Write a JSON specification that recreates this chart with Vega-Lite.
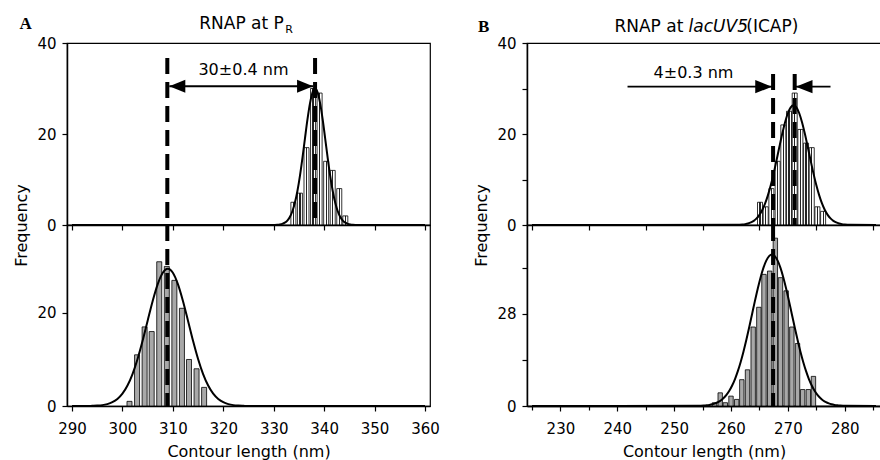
{
  "$schema": "https://vega.github.io/schema/vega-lite/v6.json",
  "background": "white",
  "padding": {"left": 12, "top": 14, "right": 0, "bottom": 0},
  "autosize": {"type": "pad"},
  "config": {
    "view": {"stroke": "black", "strokeWidth": 1.2},
    "axis": {"grid": false, "labelOverlap": false, "labelFlush": false, "domainColor": "black", "domainWidth": 1.5, "tickColor": "black", "tickWidth": 1.2, "tickSize": 5, "labelFont": "DejaVu Sans", "labelFontSize": 15, "labelColor": "black", "labelPadding": 6, "titleFont": "DejaVu Sans", "titleFontSize": 16, "titleFontWeight": "normal", "titleColor": "black"},
    "text": {"font": "DejaVu Sans", "color": "black"}
  },
  "columns": 2,
  "spacing": {"row": 0, "column": 97},
  "bounds": "flush",
  "concat": [
        {
          "width": 363,
          "height": 182,
          "layer": [
            {
              "data": {"values": [
                {"len": 333.9, "freq": 5}, {"len": 335.2, "freq": 7}, {"len": 336.5, "freq": 17}, {"len": 337.8, "freq": 30}, {"len": 339.1, "freq": 29}, {"len": 340.4, "freq": 14}, {"len": 341.7, "freq": 12}, {"len": 343.0, "freq": 8}, {"len": 344.2, "freq": 2}
              ]},
              "mark": {"type": "bar", "size": 5, "stroke": "black", "strokeWidth": 0.8,
                "fill": {"gradient": "linear", "x1": 0, "y1": 0, "x2": 1, "y2": 0, "stops": [
                  {"offset": 0, "color": "white"}, {"offset": 0.38, "color": "white"}, {"offset": 0.38, "color": "#222222"}, {"offset": 0.62, "color": "#222222"}, {"offset": 0.62, "color": "white"}, {"offset": 1, "color": "white"}]}},
              "encoding": {
                "x": {"field": "len", "type": "quantitative", "scale": {"domain": [290, 360], "nice": false, "zero": false},
                  "axis": {"values": [290, 300, 310, 320, 330, 340, 350, 360], "labels": false, "title": null}},
                "y": {"field": "freq", "type": "quantitative", "scale": {"domain": [0, 40], "nice": false},
                  "axis": {"values": [0, 20, 40], "title": "Frequency", "titleX": -41, "titleY": 182, "titleAngle": -90, "titleAlign": "center", "titleBaseline": "alphabetic"}}
              }
            },
            {
              "data": {"values": [
                {"len": 308.9, "freq": 36.7}, {"len": 338.2, "freq": 36.7}
              ]},
              "mark": {"type": "rule", "color": "black", "strokeWidth": 4, "strokeDash": [16, 8]},
              "encoding": {"x": {"field": "len", "type": "quantitative"}, "y": {"field": "freq", "type": "quantitative"}, "y2": {"datum": 0}}
            },
            {
              "data": {"values": [
                {"len": 290, "freq": 0}, {"len": 330.2, "freq": 0.02}, {"len": 330.7, "freq": 0.05}, {"len": 331.2, "freq": 0.12}, {"len": 331.7, "freq": 0.25}, {"len": 332.2, "freq": 0.51}, {"len": 332.7, "freq": 0.97}, {"len": 333.2, "freq": 1.76}, {"len": 333.7, "freq": 3.02}, {"len": 334.2, "freq": 4.89}, {"len": 334.7, "freq": 7.48}, {"len": 335.2, "freq": 10.81}, {"len": 335.7, "freq": 14.77}, {"len": 336.2, "freq": 19.06}, {"len": 336.7, "freq": 23.25}, {"len": 337.2, "freq": 26.78}, {"len": 337.7, "freq": 29.16}, {"len": 338.2, "freq": 30}, {"len": 338.7, "freq": 29.16}, {"len": 339.2, "freq": 26.78}, {"len": 339.7, "freq": 23.25}, {"len": 340.2, "freq": 19.06}, {"len": 340.7, "freq": 14.77}, {"len": 341.2, "freq": 10.81}, {"len": 341.7, "freq": 7.48}, {"len": 342.2, "freq": 4.89}, {"len": 342.7, "freq": 3.02}, {"len": 343.2, "freq": 1.76}, {"len": 343.7, "freq": 0.97}, {"len": 344.2, "freq": 0.51}, {"len": 344.7, "freq": 0.25}, {"len": 345.2, "freq": 0.12}, {"len": 345.7, "freq": 0.05}, {"len": 346.2, "freq": 0.02}, {"len": 360, "freq": 0}
              ]},
              "mark": {"type": "line", "color": "black", "strokeWidth": 2, "interpolate": "monotone"},
              "encoding": {"x": {"field": "len", "type": "quantitative"}, "y": {"field": "freq", "type": "quantitative"}}
            },
            {
              "data": {"values": [{"len": 309.3, "len2": 337.8, "freq": 30.5}]},
              "mark": {"type": "rule", "color": "black", "strokeWidth": 2},
              "encoding": {"x": {"field": "len", "type": "quantitative"}, "x2": {"field": "len2"}, "y": {"field": "freq", "type": "quantitative"}}
            },
            {
              "data": {"values": [{"len": 309.3, "freq": 30.5, "dir": "left"}, {"len": 337.8, "freq": 30.5, "dir": "right"}]},
              "mark": {"type": "point", "filled": true, "size": 256, "color": "black", "opacity": 1, "strokeWidth": 0},
              "encoding": {"x": {"field": "len", "type": "quantitative"}, "y": {"field": "freq", "type": "quantitative"},
                "shape": {"field": "dir", "type": "nominal", "scale": {"domain": ["left", "right"], "range": ["M0,0L2,-0.8L2,0.8Z", "M0,0L-2,-0.8L-2,0.8Z"]}, "legend": null}}
            },
            {
              "data": {"values": [{"len": 324.0, "freq": 34.1, "label": "30±0.4 nm"}]},
              "mark": {"type": "text", "fontSize": 16, "align": "center", "baseline": "middle"},
              "encoding": {"x": {"field": "len", "type": "quantitative"}, "y": {"field": "freq", "type": "quantitative"}, "text": {"field": "label"}}
            },
            {
              "data": {"values": [{"len": 332.0, "freq": 43.1, "label": "RNAP at P"}]},
              "mark": {"type": "text", "fontSize": 17, "align": "right", "baseline": "alphabetic"},
              "encoding": {"x": {"field": "len", "type": "quantitative"}, "y": {"field": "freq", "type": "quantitative"}, "text": {"field": "label"}}
            },
            {
              "data": {"values": [{"len": 332.3, "freq": 42.26, "label": "R"}]},
              "mark": {"type": "text", "fontSize": 11, "align": "left", "baseline": "alphabetic"},
              "encoding": {"x": {"field": "len", "type": "quantitative"}, "y": {"field": "freq", "type": "quantitative"}, "text": {"field": "label"}}
            },
            {
              "data": {"values": [{"len": 279.6, "freq": 43.0, "label": "A"}]},
              "mark": {"type": "text", "font": "Liberation Serif", "fontWeight": "bold", "fontSize": 17, "align": "left", "baseline": "alphabetic"},
              "encoding": {"x": {"field": "len", "type": "quantitative"}, "y": {"field": "freq", "type": "quantitative"}, "text": {"field": "label"}}
            }
          ]
        },
        {
          "width": 354,
          "height": 182,
          "layer": [
            {
              "data": {"values": [
                {"len": 265.1, "freq": 5}, {"len": 266.1, "freq": 4}, {"len": 267.1, "freq": 8}, {"len": 268.2, "freq": 14}, {"len": 269.2, "freq": 22}, {"len": 270.2, "freq": 25}, {"len": 271.2, "freq": 29}, {"len": 272.2, "freq": 21}, {"len": 273.2, "freq": 18}, {"len": 274.2, "freq": 17}, {"len": 275.2, "freq": 4}, {"len": 276.2, "freq": 3}
              ]},
              "mark": {"type": "bar", "size": 5, "stroke": "black", "strokeWidth": 0.8,
                "fill": {"gradient": "linear", "x1": 0, "y1": 0, "x2": 1, "y2": 0, "stops": [
                  {"offset": 0, "color": "white"}, {"offset": 0.38, "color": "white"}, {"offset": 0.38, "color": "#222222"}, {"offset": 0.62, "color": "#222222"}, {"offset": 0.62, "color": "white"}, {"offset": 1, "color": "white"}]}},
              "encoding": {
                "x": {"field": "len", "type": "quantitative", "scale": {"domain": [225, 285.5], "nice": false, "zero": false},
                  "axis": {"values": [225, 230, 235, 240, 245, 250, 255, 260, 265, 270, 275, 280, 285], "labels": false, "title": null}},
                "y": {"field": "freq", "type": "quantitative", "scale": {"domain": [0, 40], "nice": false},
                  "axis": {"values": [0, 10, 20, 30, 40], "labelOverlap": false, "labelExpr": "datum.value % 20 == 0 ? datum.label : ''", "title": "Frequency", "titleX": -41, "titleY": 182, "titleAngle": -90, "titleAlign": "center", "titleBaseline": "alphabetic"}}
              }
            },
            {
              "data": {"values": [
                {"len": 267.4, "freq": 33.2}, {"len": 271.2, "freq": 33.2}
              ]},
              "mark": {"type": "rule", "color": "black", "strokeWidth": 4, "strokeDash": [16, 8]},
              "encoding": {"x": {"field": "len", "type": "quantitative"}, "y": {"field": "freq", "type": "quantitative"}, "y2": {"datum": 0}}
            },
            {
              "data": {"values": [
                {"len": 225, "freq": 0}, {"len": 261, "freq": 0.03}, {"len": 261.5, "freq": 0.05}, {"len": 262, "freq": 0.10}, {"len": 262.5, "freq": 0.19}, {"len": 263, "freq": 0.33}, {"len": 263.5, "freq": 0.56}, {"len": 264, "freq": 0.91}, {"len": 264.5, "freq": 1.45}, {"len": 265, "freq": 2.23}, {"len": 265.5, "freq": 3.30}, {"len": 266, "freq": 4.73}, {"len": 266.5, "freq": 6.56}, {"len": 267, "freq": 8.78}, {"len": 267.5, "freq": 11.35}, {"len": 268, "freq": 14.19}, {"len": 268.5, "freq": 17.13}, {"len": 269, "freq": 19.99}, {"len": 269.5, "freq": 22.54}, {"len": 270, "freq": 24.56}, {"len": 270.5, "freq": 25.85}, {"len": 271, "freq": 26.3}, {"len": 271.5, "freq": 25.85}, {"len": 272, "freq": 24.56}, {"len": 272.5, "freq": 22.54}, {"len": 273, "freq": 19.99}, {"len": 273.5, "freq": 17.13}, {"len": 274, "freq": 14.19}, {"len": 274.5, "freq": 11.35}, {"len": 275, "freq": 8.78}, {"len": 275.5, "freq": 6.56}, {"len": 276, "freq": 4.73}, {"len": 276.5, "freq": 3.30}, {"len": 277, "freq": 2.23}, {"len": 277.5, "freq": 1.45}, {"len": 278, "freq": 0.91}, {"len": 278.5, "freq": 0.56}, {"len": 279, "freq": 0.33}, {"len": 279.5, "freq": 0.19}, {"len": 280, "freq": 0.10}, {"len": 280.5, "freq": 0.05}, {"len": 281, "freq": 0.03}, {"len": 285.5, "freq": 0}
              ]},
              "mark": {"type": "line", "color": "black", "strokeWidth": 2, "interpolate": "monotone"},
              "encoding": {"x": {"field": "len", "type": "quantitative"}, "y": {"field": "freq", "type": "quantitative"}}
            },
            {
              "data": {"values": [{"len": 241.8, "len2": 267.2, "freq": 30.4}, {"len": 271.4, "len2": 277.5, "freq": 30.4}]},
              "mark": {"type": "rule", "color": "black", "strokeWidth": 1.7},
              "encoding": {"x": {"field": "len", "type": "quantitative"}, "x2": {"field": "len2"}, "y": {"field": "freq", "type": "quantitative"}}
            },
            {
              "data": {"values": [{"len": 267.2, "freq": 30.4, "dir": "right"}, {"len": 271.4, "freq": 30.4, "dir": "left"}]},
              "mark": {"type": "point", "filled": true, "size": 279, "color": "black", "opacity": 1, "strokeWidth": 0},
              "encoding": {"x": {"field": "len", "type": "quantitative"}, "y": {"field": "freq", "type": "quantitative"},
                "shape": {"field": "dir", "type": "nominal", "scale": {"domain": ["left", "right"], "range": ["M0,0L2,-0.9L2,0.9Z", "M0,0L-2,-0.9L-2,0.9Z"]}, "legend": null}}
            },
            {
              "data": {"values": [{"len": 253.4, "freq": 33.4, "label": "4±0.3 nm"}]},
              "mark": {"type": "text", "fontSize": 16, "align": "center", "baseline": "middle"},
              "encoding": {"x": {"field": "len", "type": "quantitative"}, "y": {"field": "freq", "type": "quantitative"}, "text": {"field": "label"}}
            },
            {
              "data": {"values": [{"len": 251.62, "freq": 42.4, "label": "RNAP at"}]},
              "mark": {"type": "text", "fontSize": 17, "align": "right", "baseline": "alphabetic"},
              "encoding": {"x": {"field": "len", "type": "quantitative"}, "y": {"field": "freq", "type": "quantitative"}, "text": {"field": "label"}}
            },
            {
              "data": {"values": [{"len": 252.54, "freq": 42.4, "label": "lacUV5"}]},
              "mark": {"type": "text", "fontSize": 17, "fontStyle": "italic", "align": "left", "baseline": "alphabetic"},
              "encoding": {"x": {"field": "len", "type": "quantitative"}, "y": {"field": "freq", "type": "quantitative"}, "text": {"field": "label"}}
            },
            {
              "data": {"values": [{"len": 262.68, "freq": 42.4, "label": "(ICAP)"}]},
              "mark": {"type": "text", "fontSize": 17, "align": "left", "baseline": "alphabetic"},
              "encoding": {"x": {"field": "len", "type": "quantitative"}, "y": {"field": "freq", "type": "quantitative"}, "text": {"field": "label"}}
            },
            {
              "data": {"values": [{"len": 215.5, "freq": 42.4, "label": "B"}]},
              "mark": {"type": "text", "font": "Liberation Serif", "fontWeight": "bold", "fontSize": 17, "align": "left", "baseline": "alphabetic"},
              "encoding": {"x": {"field": "len", "type": "quantitative"}, "y": {"field": "freq", "type": "quantitative"}, "text": {"field": "label"}}
            }
          ]
        },
        {
          "width": 363,
          "height": 181,
          "layer": [
            {
              "data": {"values": [
                {"len": 301.4, "freq": 1}, {"len": 302.9, "freq": 11}, {"len": 304.4, "freq": 17}, {"len": 305.8, "freq": 16}, {"len": 307.3, "freq": 31}, {"len": 308.8, "freq": 30}, {"len": 310.3, "freq": 27}, {"len": 311.8, "freq": 21}, {"len": 313.2, "freq": 10}, {"len": 314.7, "freq": 8}, {"len": 316.2, "freq": 4}
              ]},
              "mark": {"type": "bar", "size": 5, "fill": "#a8a8a8", "stroke": "black", "strokeWidth": 0.8},
              "encoding": {
                "x": {"field": "len", "type": "quantitative", "scale": {"domain": [290, 360], "nice": false, "zero": false},
                  "axis": {"values": [290, 300, 310, 320, 330, 340, 350, 360], "format": "d", "labelPadding": 10, "title": "Contour length (nm)", "titlePadding": 7}},
                "y": {"field": "freq", "type": "quantitative", "scale": {"domain": [0, 38.9], "nice": false},
                  "axis": {"values": [0, 20], "title": null}}
              }
            },
            {
              "data": {"values": [{"len": 308.9, "freq": 38.9}]},
              "mark": {"type": "rule", "color": "black", "strokeWidth": 4, "strokeDash": [16, 8]},
              "encoding": {"x": {"field": "len", "type": "quantitative"}, "y": {"field": "freq", "type": "quantitative"}, "y2": {"datum": 0}}
            },
            {
              "data": {"values": [
                {"len": 290, "freq": 0}, {"len": 293, "freq": 0}, {"len": 294, "freq": 0.04}, {"len": 295, "freq": 0.09}, {"len": 296, "freq": 0.19}, {"len": 297, "freq": 0.41}, {"len": 298, "freq": 0.81}, {"len": 299, "freq": 1.51}, {"len": 300, "freq": 2.65}, {"len": 301, "freq": 4.40}, {"len": 302, "freq": 6.87}, {"len": 303, "freq": 10.11}, {"len": 304, "freq": 14.02}, {"len": 305, "freq": 18.33}, {"len": 306, "freq": 22.57}, {"len": 307, "freq": 26.19}, {"len": 308, "freq": 28.64}, {"len": 309, "freq": 29.5}, {"len": 310, "freq": 28.64}, {"len": 311, "freq": 26.19}, {"len": 312, "freq": 22.57}, {"len": 313, "freq": 18.33}, {"len": 314, "freq": 14.02}, {"len": 315, "freq": 10.11}, {"len": 316, "freq": 6.87}, {"len": 317, "freq": 4.40}, {"len": 318, "freq": 2.65}, {"len": 319, "freq": 1.51}, {"len": 320, "freq": 0.81}, {"len": 321, "freq": 0.41}, {"len": 322, "freq": 0.19}, {"len": 323, "freq": 0.09}, {"len": 324, "freq": 0.04}, {"len": 325, "freq": 0}, {"len": 360, "freq": 0}
              ]},
              "mark": {"type": "line", "color": "black", "strokeWidth": 2, "interpolate": "monotone"},
              "encoding": {"x": {"field": "len", "type": "quantitative"}, "y": {"field": "freq", "type": "quantitative"}}
            }
          ]
        },
        {
          "width": 354,
          "height": 181,
          "resolve": {"axis": {"x": "independent"}},
          "layer": [
            {
              "data": {"values": [
                {"len": 257.1, "freq": 1}, {"len": 258.1, "freq": 4}, {"len": 259.0, "freq": 1}, {"len": 260.0, "freq": 3}, {"len": 261.0, "freq": 2}, {"len": 261.9, "freq": 8}, {"len": 262.9, "freq": 11}, {"len": 263.9, "freq": 24}, {"len": 264.9, "freq": 30}, {"len": 265.8, "freq": 40}, {"len": 266.8, "freq": 41}, {"len": 267.8, "freq": 51}, {"len": 268.7, "freq": 39}, {"len": 269.7, "freq": 35}, {"len": 270.7, "freq": 24}, {"len": 271.7, "freq": 19}, {"len": 272.6, "freq": 5}, {"len": 273.6, "freq": 5}, {"len": 274.5, "freq": 9}
              ]},
              "mark": {"type": "bar", "size": 4.4, "fill": "#a8a8a8", "stroke": "black", "strokeWidth": 0.8},
              "encoding": {
                "x": {"field": "len", "type": "quantitative", "scale": {"domain": [225, 285.5], "nice": false, "zero": false},
                  "axis": {"orient": "bottom", "values": [230, 240, 250, 260, 270, 280], "format": "d", "labelPadding": 10, "title": "Contour length (nm)", "titlePadding": 7}},
                "y": {"field": "freq", "type": "quantitative", "scale": {"domain": [0, 55.0], "nice": false},
                  "axis": {"values": [0, 14, 28, 42], "labelOverlap": false, "labelExpr": "datum.value % 28 == 0 ? datum.label : ''", "title": null}}
              }
            },
            {
              "data": {"values": [{"len": 267.4, "freq": 55.0}]},
              "mark": {"type": "rule", "color": "black", "strokeWidth": 4, "strokeDash": [16, 8]},
              "encoding": {"x": {"field": "len", "type": "quantitative", "axis": null}, "y": {"field": "freq", "type": "quantitative"}, "y2": {"datum": 0}}
            },
            {
              "data": {"values": [
                {"len": 225, "freq": 0}, {"len": 254.2, "freq": 0.05}, {"len": 254.7, "freq": 0.08}, {"len": 255.2, "freq": 0.13}, {"len": 255.7, "freq": 0.21}, {"len": 256.2, "freq": 0.33}, {"len": 256.7, "freq": 0.51}, {"len": 257.2, "freq": 0.78}, {"len": 257.7, "freq": 1.16}, {"len": 258.2, "freq": 1.69}, {"len": 258.7, "freq": 2.41}, {"len": 259.2, "freq": 3.38}, {"len": 259.7, "freq": 4.63}, {"len": 260.2, "freq": 6.23}, {"len": 260.7, "freq": 8.20}, {"len": 261.2, "freq": 10.58}, {"len": 261.7, "freq": 13.38}, {"len": 262.2, "freq": 16.58}, {"len": 262.7, "freq": 20.13}, {"len": 263.2, "freq": 23.94}, {"len": 263.7, "freq": 27.90}, {"len": 264.2, "freq": 31.86}, {"len": 264.7, "freq": 35.64}, {"len": 265.2, "freq": 39.07}, {"len": 265.7, "freq": 41.97}, {"len": 266.2, "freq": 44.16}, {"len": 266.7, "freq": 45.53}, {"len": 267.2, "freq": 46}, {"len": 267.7, "freq": 45.53}, {"len": 268.2, "freq": 44.16}, {"len": 268.7, "freq": 41.97}, {"len": 269.2, "freq": 39.07}, {"len": 269.7, "freq": 35.64}, {"len": 270.2, "freq": 31.86}, {"len": 270.7, "freq": 27.90}, {"len": 271.2, "freq": 23.94}, {"len": 271.7, "freq": 20.13}, {"len": 272.2, "freq": 16.58}, {"len": 272.7, "freq": 13.38}, {"len": 273.2, "freq": 10.58}, {"len": 273.7, "freq": 8.20}, {"len": 274.2, "freq": 6.23}, {"len": 274.7, "freq": 4.63}, {"len": 275.2, "freq": 3.38}, {"len": 275.7, "freq": 2.41}, {"len": 276.2, "freq": 1.69}, {"len": 276.7, "freq": 1.16}, {"len": 277.2, "freq": 0.78}, {"len": 277.7, "freq": 0.51}, {"len": 278.2, "freq": 0.33}, {"len": 278.7, "freq": 0.21}, {"len": 279.2, "freq": 0.13}, {"len": 279.7, "freq": 0.08}, {"len": 280.2, "freq": 0.05}, {"len": 285.5, "freq": 0}
              ]},
              "mark": {"type": "line", "color": "black", "strokeWidth": 2, "interpolate": "monotone"},
              "encoding": {"x": {"field": "len", "type": "quantitative", "axis": {"orient": "bottom", "values": [225, 235, 245, 255, 265, 275, 285], "labels": false, "title": null, "tickSize": 4}}, "y": {"field": "freq", "type": "quantitative"}}
            }
          ]
        }
  ]
}
